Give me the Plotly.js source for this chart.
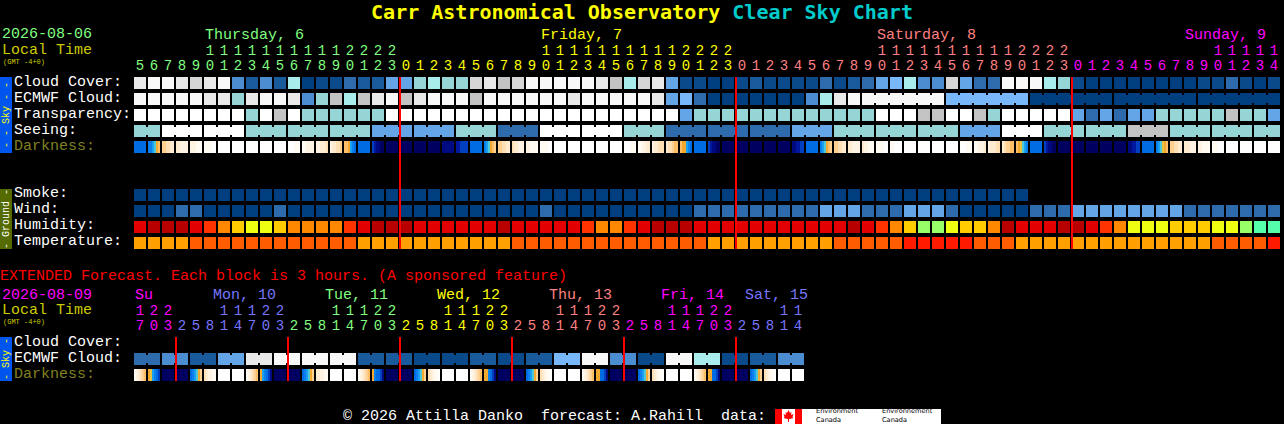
<!DOCTYPE html>
<html><head><meta charset="utf-8">
<script src="https://cdn.plot.ly/plotly-3.0.1.min.js"></script>
<style>html,body{margin:0;padding:0;background:#000;overflow:hidden}</style></head>
<body><div id="chart" style="width:1284px;height:424px"></div>
<script>
// ---- data ----
const skyColors=['#003F7F','#0A4A8A','#195A9C','#2D6BAC','#4C8CD0','#63A5E6','#78B8FA','#A8ECEC','#95D5D5','#C3C3C3','#D6D6D6','#E9E9E9','#F8F8F8','#FFFFFF'];
const humidityColors=['#B80000','#E30000','#FF3300','#FF8800','#FFCC00','#EEFF11','#99FF66','#55FFAA'];
const temperatureColors=['#FF9F00','#FF5B00','#FF1A00'];
const darkColors=['#FFFFFF','#FFFAF2','#FFF4E4','#FFEBD0','#FFE0B4','#FFD090','#FFBE68','#F5A82E','#E8C040','#50C8D8','#1AA0F0','#0A80EE','#006CE4','#0040C0','#0018A0','#000A80','#000060'];

const cloudCover=[11,12,12,11,10,11,12,4,2,4,2,7,0,1,1,3,2,2,5,5,8,7,8,8,10,11,9,10,12,12,12,12,12,11,9,7,10,11,5,1,1,0,0,1,2,1,1,1,1,3,1,2,3,5,6,7,4,4,10,5,3,3,12,12,12,7,8,1,0,0,0,0,0,0,0,0,1,1,3,1,0,1];
const ecmwfCloud=[12,12,12,12,12,11,11,8,11,12,12,11,4,8,9,7,9,11,12,9,11,12,12,12,9,12,12,12,12,12,12,11,12,12,12,12,12,11,5,6,3,0,0,0,0,0,0,0,4,7,11,12,12,12,12,12,12,12,6,6,6,6,6,6,0,0,0,0,0,0,0,0,0,0,0,0,0,0,0,0,0,0];
const transparency=[13,13,13,13,13,13,13,13,8,13,9,13,8,8,8,8,8,8,13,13,13,13,13,13,13,13,13,13,13,13,13,13,13,13,13,13,13,13,13,5,8,8,8,8,8,8,8,8,8,8,8,8,8,13,13,13,9,9,13,13,9,8,13,13,13,13,13,5,3,5,3,5,5,8,8,8,8,8,9,8,8,5];
const seeing=[8,8,13,13,13,13,13,13,8,8,8,8,8,8,8,8,8,5,5,5,5,5,5,8,8,8,3,3,3,13,13,13,13,13,13,8,8,8,3,3,3,3,3,3,3,3,3,5,5,5,8,8,8,8,8,8,8,8,8,5,5,5,13,13,13,8,8,8,8,8,8,9,9,9,8,8,8,8,8,8,8,8];
const smoke=[0,0,0,0,0,0,0,0,0,0,0,0,0,0,0,0,0,0,0,0,0,0,0,0,0,0,0,0,0,0,0,0,0,0,0,0,0,0,0,0,0,0,0,0,0,0,0,0,0,0,0,0,0,0,0,0,0,0,0,0,0,0,0,0];
const wind=[0,0,0,3,3,0,0,0,0,0,3,0,0,0,0,0,0,0,0,0,0,0,0,0,0,0,0,0,0,3,0,0,0,0,0,0,0,0,0,0,3,3,3,3,3,3,3,3,3,5,5,5,3,3,3,5,5,5,3,0,0,0,0,0,3,3,3,5,5,5,5,5,5,5,5,3,3,3,3,3,3,3];
const humidity=[1,0,0,0,1,2,3,4,5,5,4,3,3,3,3,2,1,0,0,0,1,1,1,1,1,1,0,1,1,1,1,1,2,3,3,2,1,0,0,0,1,1,1,1,1,1,1,1,1,1,1,0,1,2,3,4,6,6,5,4,4,3,0,1,1,1,0,0,1,2,3,5,5,5,4,4,4,5,5,6,7,7];
const temperature=[0,0,0,0,1,1,1,1,1,1,1,1,1,1,1,1,0,0,0,0,0,0,0,0,0,0,0,1,1,1,1,1,1,1,1,1,1,1,1,1,1,0,0,0,0,0,0,0,0,0,1,1,1,1,1,2,2,2,2,2,1,1,1,0,0,0,0,0,0,0,0,0,0,0,0,0,0,1,1,1,1,2];
const darkness=[[12],[11,11,10,9,7,6],[5,5,4,4,3,3],[3,3,2,2,2,2],[2,2,2,1,1,1],[1,1,1,1,0,0],[0],[0],[0],[0],[0],[0,0,0,1,1,1],[1,1,2,2,2,2],[2,2,3,3,3,4],[2,3,3,4,4,5],[6,6,7,10,11,12],[12],[13,14,15,15,16,16],[16],[16],[16],[16],[15],[14,14,13,13,13,13],
[12],[11,10,9,7,6,5],[5,5,4,4,3,3],[4,3,3,2,2,2],[2,2,1,1,1,1],[1,1,1,1,0,0],[0],[0],[0],[0],[0],[0,0,0,1,1,1],[1,1,2,2,3,3],[2,3,3,4,4,4],[3,4,4,5,6,6],[6,7,7,10,11,12],[12],[13,14,15,15,16,16],[16],[16],[16],[16],[16],[15,15,14,14,13,13],
[12],[11,10,9,7,6,5],[5,5,4,4,3,3],[3,3,2,2,2,2],[3,2,2,1,1,1],[1,1,1,1,0,0],[1,1,0,0,0,0],[0],[0],[0],[0],[0,0,0,1,1,1],[1,1,2,2,2,3],[2,3,3,3,4,4],[3,4,5,5,6,6],[6,7,8,9,10,11],[12],[13,14,15,15,16,16],[16],[16],[16],[16],[16],[15,15,14,14,13,13],
[12],[11,10,9,8,7,6],[5,5,4,4,3,3],[3,3,3,2,2,2],[2,2,1,1,1,1],[1,1,1,0,0,0],[0],[0],[0],[0]];
const extEcmwf=[3,3,4,4,2,2,5,5,11,11,12,12,12,12,12,12,2,2,2,2,1,1,1,1,2,2,1,1,2,2,6,6,12,12,4,4,1,1,12,12,7,7,1,1,2,2,4,4];
const extDarkness=[[1,2,3,4,5,6],[7,8,10,11,12,13],[16],[16],[12,11,10,9,7,5],[4,3,2,2,1,1],[0],[0],
[1,2,3,4,5,6],[7,10,11,12,13,15],[16],[16],[12,11,10,9,7,5],[3,3,2,2,1,1],[0],[0],
[1,2,3,4,5,6],[7,11,12,12,13,15],[16],[16],[12,11,10,9,7,5],[4,3,2,1,1,0],[0],[0],
[1,2,3,4,5,6],[7,7,11,12,13,15],[16],[16],[12,11,10,9,7,5],[4,3,2,1,1,0],[0],[0],
[1,2,3,4,5,6],[7,7,12,12,13,15],[16],[16],[12,11,10,9,7,5],[4,3,2,1,1,0],[0],[0],
[1,2,3,4,5,6],[7,7,12,12,13,15],[16],[16],[12,11,10,9,7,5],[4,3,2,1,1,0],[0],[0]];
const mainHours=[5,6,7,8,9,10,11,12,13,14,15,16,17,18,19,20,21,22,23,0,1,2,3,4,5,6,7,8,9,10,11,12,13,14,15,16,17,18,19,20,21,22,23,0,1,2,3,4,5,6,7,8,9,10,11,12,13,14,15,16,17,18,19,20,21,22,23,0,1,2,3,4,5,6,7,8,9,10,11,12,13,14];
const mainDays=['Thursday, 6','Friday, 7','Saturday, 8','Sunday, 9'];
const mainDayStart=[0,19,43,67];
const mainDayLabelCell=[5,29,53,75];
const mainDayColors=['#80FF80','#FFFF00','#FF8080','#FF00FF'];
const extHours=[17,20,23,2,5,8,11,14,17,20,23,2,5,8,11,14,17,20,23,2,5,8,11,14,17,20,23,2,5,8,11,14,17,20,23,2,5,8,11,14,17,20,23,2,5,8,11,14];
const extDays=['Su','Mon, 10','Tue, 11','Wed, 12','Thu, 13','Fri, 14','Sat, 15'];
const extDayStart=[0,3,11,19,27,35,43];
const extDayLabelCell=[0,5.57,13.57,21.57,29.57,37.57,43.57];
const extDayColors=['#FF00FF','#7777FF','#80FF80','#FFFF00','#FF8080','#FF00FF','#7777FF'];
const midnightCells=[19,43,67];
const extMidnightCells=[3,11,19,27,35,43];
const rows={cloud:0,ecmwf:1,transparency:2,seeing:3,darkness:4,smoke:7,wind:8,humidity:9,temperature:10,extCloud:16.25,extEcmwf:17.25,extDark:18.25};

// ---- scales: one x unit = 14 px per forecast block, one y unit = 16 px per row ----
const CW=12/14, NW=2/14, CH=12/16, NH=8/16;
function cells(vals,pal,row){
  return {type:'bar',x:vals.map((_,i)=>i),y:vals.map(()=>CH),base:vals.map(()=>row-CH/2),width:vals.map(()=>CW),
    marker:{color:vals.map(v=>pal[v]),line:{width:0}},hoverinfo:'skip',showlegend:false};
}
function necks(vals,pal,row,joined){
  const xs=[],cs=[];
  vals.forEach((v,i)=>{if(i<vals.length-1&&joined(i)){xs.push(i+0.5);cs.push(pal[v]);}});
  return {type:'bar',x:xs,y:xs.map(()=>NH),base:xs.map(()=>row-NH/2),width:xs.map(()=>NW),
    marker:{color:cs,line:{width:0}},hoverinfo:'skip',showlegend:false};
}
function gradient(list,row){
  const x=[],c=[],w=[];
  list.forEach((s,i)=>{const n=s.length;s.forEach((v,j)=>{
    x.push(i-CW/2+(j+0.5)*CW/n);c.push(darkColors[v]);w.push(CW/n);});});
  return {type:'bar',x:x,y:x.map(()=>CH),base:x.map(()=>row-CH/2),width:w,
    marker:{color:c,line:{width:0}},hoverinfo:'skip',showlegend:false};
}
function redLines(list,top,bottom){
  const x=[],y=[];
  list.forEach(m=>{const p=m-CW/2;x.push(p,p,null);y.push(top,bottom,null);});
  return {type:'scatter',mode:'lines',x:x,y:y,line:{color:'#FF0000',width:2},hoverinfo:'skip',showlegend:false};
}
function dayIndex(i,starts){let d=0;starts.forEach((s,k)=>{if(i>=s)d=k;});return d;}
const MONO='"Liberation Mono", monospace';
const DIGIT=14;
function hourText(hours,starts,colors,rowOnes,rowTens){
  const col=hours.map((_,i)=>colors[dayIndex(i,starts)]);
  const ones={type:'scatter',mode:'text',x:hours.map((_,i)=>i),y:hours.map(()=>rowOnes),text:hours.map(h=>String(h%10)),
    textposition:'middle center',textfont:{family:MONO,size:DIGIT,color:col},hoverinfo:'skip',showlegend:false};
  const idx=hours.map((h,i)=>h>=10?i:-1).filter(i=>i>=0);
  const tens={type:'scatter',mode:'text',x:idx,y:idx.map(()=>rowTens),text:idx.map(i=>String(Math.floor(hours[i]/10))),
    textposition:'middle center',textfont:{family:MONO,size:DIGIT,color:idx.map(i=>col[i])},hoverinfo:'skip',showlegend:false};
  return [ones,tens];
}
const ecmwfJoined=i=>i>=52&&(i-52)%6!==5;
const seeingJoined=i=>(i+1)%3!==2;
const extJoined=i=>i%2===0;

const traces=[
 cells(cloudCover,skyColors,rows.cloud),
 cells(ecmwfCloud,skyColors,rows.ecmwf),necks(ecmwfCloud,skyColors,rows.ecmwf,ecmwfJoined),
 cells(transparency,skyColors,rows.transparency),
 cells(seeing,skyColors,rows.seeing),necks(seeing,skyColors,rows.seeing,seeingJoined),
 gradient(darkness,rows.darkness),
 cells(smoke,skyColors,rows.smoke),
 cells(wind,skyColors,rows.wind),
 cells(humidity,humidityColors,rows.humidity),
 cells(temperature,temperatureColors,rows.temperature),
 cells(extEcmwf,skyColors,rows.extEcmwf),necks(extEcmwf,skyColors,rows.extEcmwf,extJoined),
 gradient(extDarkness,rows.extDark),
 redLines(midnightCells,rows.cloud-CH/2,rows.temperature+CH/2),
 redLines(extMidnightCells,rows.extCloud-CH/2,rows.extDark+CH/2),
 ...hourText(mainHours,mainDayStart,mainDayColors,-1.03,-1.97),
 ...hourText(extHours,extDayStart,extDayColors,16.25-1.03,16.25-1.97)
];

// ---- text and furniture ----
const W=1284,H=424;
function t(px,py,text,color,size,extra){
  return Object.assign({xref:'paper',yref:'paper',x:px/W,y:1-py/H,text:text,showarrow:false,xanchor:'left',yanchor:'middle',borderpad:0,
    font:{family:MONO,size:size||15,color:color}},extra||{});
}
const WHITE='#FFFFFF',DIM='#808020',LT='#CCCC00';
const logoFont={family:'"DejaVu Sans", sans-serif',size:6.6,color:'#000'};
const annotations=[
 t(1,35,'2026-08-06','#80FF80'),t(1,50,'Local Time',LT),t(2,62,'(GMT -4+0)',LT,7),
 t(13,82,'Cloud Cover:',WHITE),t(13,98,'ECMWF Cloud:',WHITE),t(13,114,'Transparency:',WHITE),t(13,130,'Seeing:',WHITE),t(13,146,'Darkness:',DIM),
 t(13,193,'Smoke:',WHITE),t(13,209,'Wind:',WHITE),t(13,225,'Humidity:',WHITE),t(13,241,'Temperature:',WHITE),
 t(-1,276,'EXTENDED Forecast. Each block is 3 hours. (A sponsored feature)','#FF0000'),
 t(1,295,'2026-08-09','#FF00FF'),t(1,310,'Local Time',LT),t(2,322,'(GMT -4+0)',LT,7),
 t(13,342,'Cloud Cover:',WHITE),t(13,358,'ECMWF Cloud:',WHITE),t(13,374,'Darkness:',DIM),
 t(342,416,'\u00A9 2026 Attilla Danko\u00A0\u00A0forecast: A.Rahill\u00A0\u00A0data:',WHITE),
 t(6,115,'- - Sky - -','#FFFF00',10,{xanchor:'center',textangle:-90}),
 t(6,219,'- Ground -',WHITE,10,{xanchor:'center',textangle:-90}),
 t(6,359,'- Sky -','#FFFF00',10,{xanchor:'center',textangle:-90}),
 t(815,415.6,'Environment<br>Canada','#000000',6.6,{font:logoFont,align:'left'}),
 t(881,415.6,'Environnement<br>Canada','#000000',6.6,{font:logoFont,align:'left'})
];
mainDays.forEach((d,i)=>annotations.push({xref:'x',yref:'y',x:mainDayLabelCell[i]-0.43,y:-3,text:d,showarrow:false,xanchor:'left',yanchor:'middle',borderpad:0,font:{family:MONO,size:15,color:mainDayColors[i]}}));
extDays.forEach((d,i)=>annotations.push({xref:'x',yref:'y',x:extDayLabelCell[i]-0.43,y:16.25-3,text:d,showarrow:false,xanchor:'left',yanchor:'middle',borderpad:0,font:{family:MONO,size:15,color:extDayColors[i]}}));

function box(x0,y0,x1,y1,color){return {type:'rect',xref:'paper',yref:'paper',x0:x0/W,x1:x1/W,y0:1-y0/H,y1:1-y1/H,fillcolor:color,line:{width:0},layer:'below'};}
function leaf(cx,cy){
  const p=[[0,-6],[1.5,-3],[3,-4],[2.5,-1],[5,-2],[4,1],[5,2],[1,3],[0.5,3],[0.5,6],[-0.5,6],[-0.5,3],[-1,3],[-5,2],[-4,1],[-5,-2],[-2.5,-1],[-3,-4],[-1.5,-3]];
  return {type:'path',xref:'paper',yref:'paper',path:'M'+p.map(q=>((cx+q[0])/W).toFixed(5)+','+(1-(cy+q[1])/H).toFixed(5)).join('L')+'Z',fillcolor:'#FF0000',line:{width:0}};
}
const shapes=[box(0,77,12,153,'#0055EE'),box(0,189,12,249,'#556B00'),box(0,337,12,381,'#0055EE'),
 box(775,409,941,424,'#FFFFFF'),box(775,409,782,424,'#FF0000'),box(795,409,802,424,'#FF0000'),leaf(788.5,416)];

const layout={width:W,height:H,margin:{l:0,r:0,t:0,b:0,pad:0},paper_bgcolor:'#000',plot_bgcolor:'#000',showlegend:false,barmode:'overlay',hovermode:false,
 xaxis:{range:[-10,(W-140)/14],visible:false,fixedrange:true,showgrid:false,zeroline:false},
 yaxis:{range:[(H-83)/16,-83/16],visible:false,fixedrange:true,showgrid:false,zeroline:false},
 title:{text:'<span style="color:#FFFF00">Carr Astronomical Observatory</span> <span style="color:#00CCCC">Clear Sky Chart</span>',
   font:{family:'"DejaVu Sans Mono", monospace',size:20,weight:700},x:0.5,xanchor:'center',xref:'paper',y:1-12/H,yref:'paper',yanchor:'middle'},
 annotations:annotations,shapes:shapes};
Plotly.newPlot('chart',traces,layout,{displayModeBar:false,staticPlot:true});
</script></body></html>
